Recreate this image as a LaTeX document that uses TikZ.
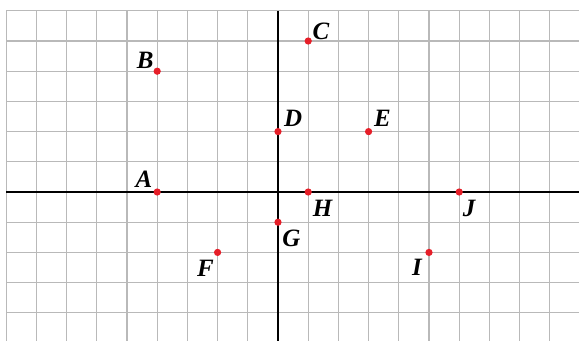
\documentclass[tikz,border=0pt]{standalone}
\usepackage{fontspec}
\setmainfont{Liberation Serif}
\usetikzlibrary{calc}
\definecolor{gridgray}{RGB}{185,185,185}
\definecolor{dotred}{RGB}{230,30,40}
\begin{document}
\begin{tikzpicture}[
  gridline/.style={draw=gridgray, line width=1pt},
  axisline/.style={draw=black, line width=1.8pt},
  pt/.style={circle, fill=dotred, inner sep=0pt, minimum size=0.24cm},
  lab/.style={font=\fontsize{23.5}{25}\selectfont\bfseries\itshape, inner sep=0pt, anchor=center}
]
\useasboundingbox (-9.205,-4.901) rectangle (9.967,6.358);
\begin{scope}
\clip (-9.205,-4.901) rectangle (9.967,6.358);
\foreach \x in {-9,...,9} \draw[gridline] (\x,-5) -- (\x,6);
\foreach \y in {-4,...,6} \draw[gridline] (-9,\y) -- (10,\y);
\draw[axisline] (-9,0) -- (10,0);
\draw[axisline] (0,6) -- (0,-5);
\end{scope}
\node[pt] (A) at (-4,0) {};
\node[pt] (B) at (-4,4) {};
\node[pt] (C) at (1,5) {};
\node[pt] (D) at (0,2) {};
\node[pt] (E) at (3,2) {};
\node[pt] (F) at (-2,-2) {};
\node[pt] (G) at (0,-1) {};
\node[pt] (H) at (1,0) {};
\node[pt] (I) at (5,-2) {};
\node[pt] (J) at (6,0) {};
\node[lab] (lA) at ($(A)+(-0.44,0.43)$) {A};
\node[lab] (lB) at ($(B)+(-0.40,0.36)$) {B};
\node[lab] (lC) at ($(C)+(0.42,0.33)$) {C};
\node[lab] (lD) at ($(D)+(0.50,0.43)$) {D};
\node[lab] (lE) at ($(E)+(0.46,0.43)$) {E};
\node[lab] (lF) at ($(F)+(-0.40,-0.53)$) {F};
\node[lab] (lG) at ($(G)+(0.44,-0.53)$) {G};
\node[lab] (lH) at ($(H)+(0.48,-0.53)$) {H};
\node[lab] (lI) at ($(I)+(-0.40,-0.50)$) {I};
\node[lab] (lJ) at ($(J)+(0.33,-0.56)$) {J};
\end{tikzpicture}
\end{document}
